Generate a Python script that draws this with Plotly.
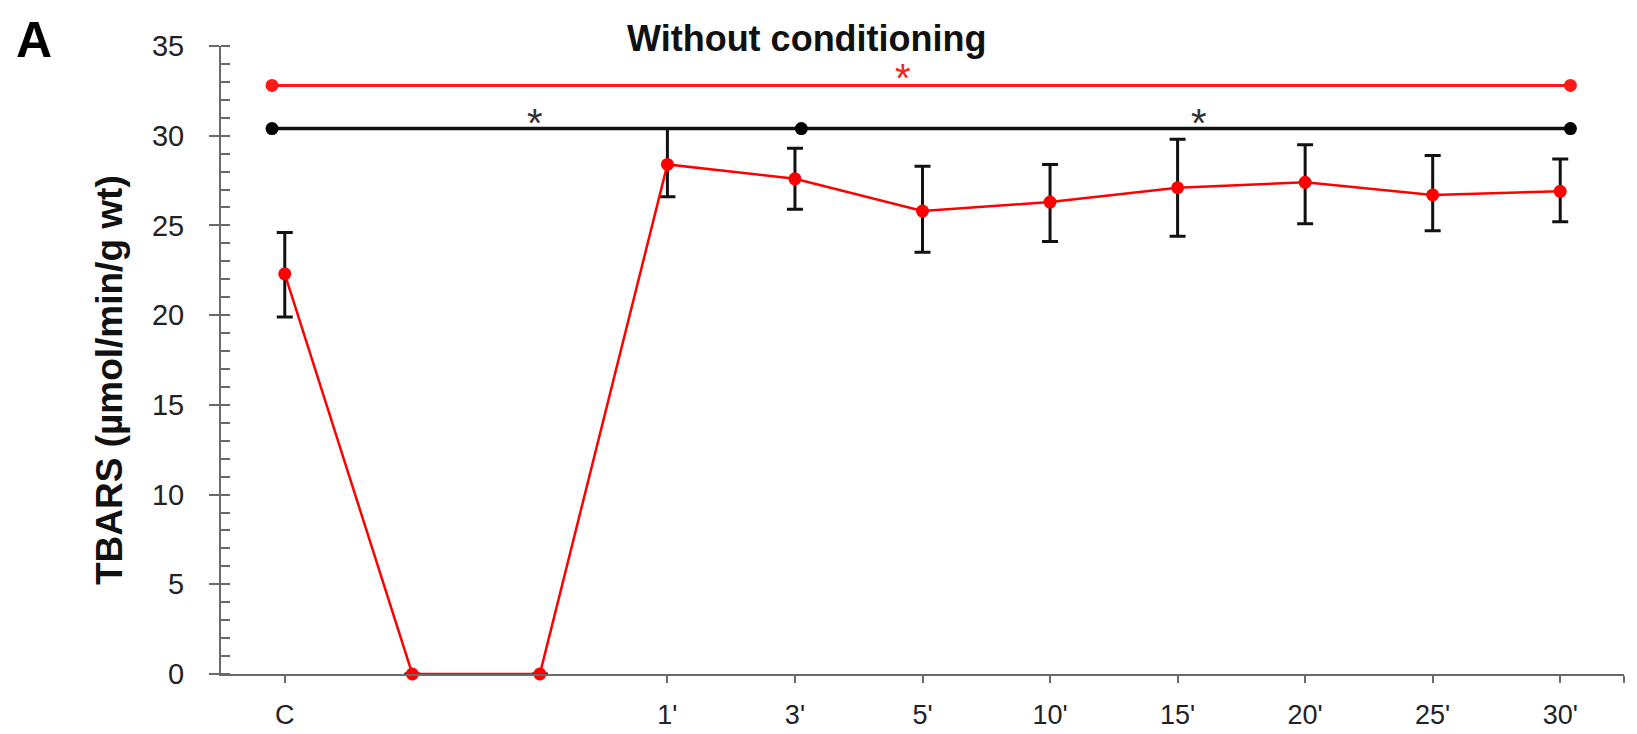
import plotly.graph_objects as go

# ---- data ----
labels = ["C", "", "", "1'", "3'", "5'", "10'", "15'", "20'", "25'", "30'"]
means = [22.3, 0, 0, 28.4, 27.6, 25.8, 26.3, 27.1, 27.4, 26.7, 26.9]
upper = [24.6, 0, 0, 30.4, 29.3, 28.3, 28.4, 29.8, 29.5, 28.9, 28.7]
lower = [19.9, 0, 0, 26.6, 25.9, 23.5, 24.1, 24.4, 25.1, 24.7, 25.2]
has_err = [True, False, False, True, True, True, True, True, True, True, True]

# significance brackets (x in category-index units, y in data units)
red_bar_x = [-0.1, 10.08]
red_bar_y = 32.8
black_bar_x = [-0.1, 4.05, 10.08]
black_bar_y = 30.4
star_x = [1.96, 4.85, 7.17]
star_y = [30.7, 33.2, 30.7]
star_col = ["#333333", "#ff2020", "#333333"]

title_text = "Without conditioning"
ytitle_text = "TBARS (µmol/min/g wt)"
panel_label = "A"

FONT = "Liberation Sans, Arial, sans-serif"
AXIS_COL = "#6a6a6a"

xs = list(range(len(labels)))
err_plus = [u - m if e else 0 for u, m, e in zip(upper, means, has_err)]
err_minus = [m - l if e else 0 for l, m, e in zip(lower, means, has_err)]

fig = go.Figure()

# significance lines
fig.add_trace(go.Scatter(
    x=red_bar_x, y=[red_bar_y] * len(red_bar_x), mode="lines+markers",
    line=dict(color="#ff1a1a", width=3), marker=dict(color="#ff1a1a", size=13),
    cliponaxis=False, showlegend=False, hoverinfo="skip"))
fig.add_trace(go.Scatter(
    x=black_bar_x, y=[black_bar_y] * len(black_bar_x), mode="lines+markers",
    line=dict(color="#111111", width=3.5), marker=dict(color="#000000", size=13),
    cliponaxis=False, showlegend=False, hoverinfo="skip"))

# main series with error bars
fig.add_trace(go.Scatter(
    x=xs, y=means, mode="lines+markers",
    line=dict(color="#ff0000", width=2.5),
    marker=dict(color="#ff0000", size=13),
    error_y=dict(type="data", symmetric=False, array=err_plus, arrayminus=err_minus,
                 color="#111111", thickness=3, width=8),
    cliponaxis=False, showlegend=False))

annotations = []
for sx, sy, sc in zip(star_x, star_y, star_col):
    annotations.append(dict(x=sx, y=sy, xref="x", yref="y", text="*", showarrow=False,
                            font=dict(family=FONT, size=40, color=sc), yanchor="middle"))

annotations.append(dict(x=799, y=734 - 30, xref="paper", yref="paper", text=f"<b>{title_text}</b>",
                        showarrow=False, font=dict(family=FONT, size=36, color="#111111"),
                        xanchor="center", yanchor="middle"))
annotations.append(dict(x=101, y=734 - 379, xref="paper", yref="paper", text=f"<b>{ytitle_text}</b>",
                        textangle=-90, showarrow=False, font=dict(family=FONT, size=37, color="#111111"),
                        xanchor="center", yanchor="middle"))
annotations.append(dict(x=26, y=734 - 1, xref="paper", yref="paper", text=f"<b>{panel_label}</b>",
                        showarrow=False, font=dict(family=FONT, size=50, color="#000000"),
                        xanchor="center", yanchor="top"))

# convert pixel positions to paper fraction
W, H = 1637, 734
ML, MR, MT, MB = 213, 21, 38, 55
pw, ph = W - ML - MR, H - MT - MB
for a in annotations:
    if a["xref"] == "paper":
        a["x"] = (a["x"] - ML) / pw
        a["y"] = (a["y"] - MB) / ph

tickvals = [i for i, l in enumerate(labels) if l] + [10.5]
ticktext = [l for l in labels if l] + [""]

fig.update_layout(
    width=W, height=H,
    margin=dict(l=ML, r=MR, t=MT, b=MB, pad=0),
    paper_bgcolor="white", plot_bgcolor="white",
    font=dict(family=FONT, color="#222222"),
    annotations=annotations,
    xaxis=dict(range=[-0.5, 10.5], tickmode="array", tickvals=tickvals, ticktext=ticktext,
               showline=True, linecolor=AXIS_COL, linewidth=2, ticks="outside", ticklen=7,
               tickwidth=2, tickcolor=AXIS_COL, showgrid=False, zeroline=False,
               tickfont=dict(family=FONT, size=27, color="#222222"), ticklabelstandoff=9),
    yaxis=dict(range=[0, 35], tickmode="linear", tick0=0, dtick=5,
               showline=True, linecolor=AXIS_COL, linewidth=2, ticks="outside", ticklen=10,
               tickwidth=2, tickcolor=AXIS_COL, showgrid=False, zeroline=False,
               tickfont=dict(family=FONT, size=29, color="#222222"), ticklabelstandoff=19,
               minor=dict(dtick=1, ticks="inside", ticklen=9, tickwidth=1.5, tickcolor=AXIS_COL,
                          showgrid=False)),
    yaxis2=dict(range=[0, 35], overlaying="y", anchor="x", side="left", tickmode="linear",
                tick0=0, dtick=5, ticks="inside", ticklen=9, tickwidth=2, tickcolor=AXIS_COL,
                showticklabels=False, showline=False, showgrid=False, zeroline=False),
)

# dummy trace to activate yaxis2
fig.add_trace(go.Scatter(x=[None], y=[None], yaxis="y2", showlegend=False, hoverinfo="skip"))

fig.write_html("out.html")
